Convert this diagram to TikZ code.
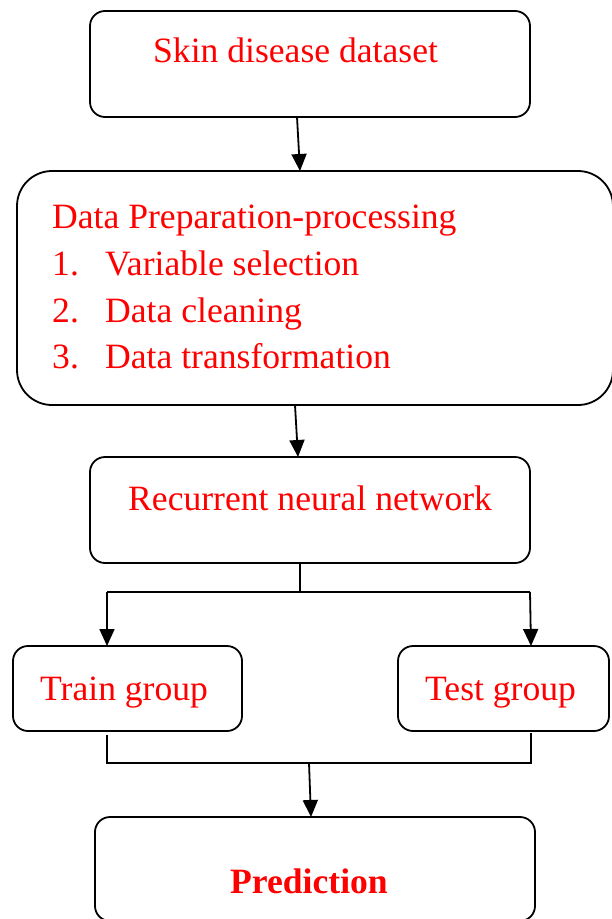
\documentclass[tikz,border=0pt]{standalone}
\usepackage{fontspec}
\setmainfont{Liberation Serif}
\usetikzlibrary{arrows.meta,calc}
\begin{document}
\begin{tikzpicture}[x=1pt,y=-1pt,
  box/.style={draw, line width=1.8pt, inner sep=0pt, outer sep=0pt, anchor=north west},
  txt/.style={text=red, anchor=base west, inner sep=0pt, font=\fontsize{35.6}{40}\selectfont},
  arr/.style={draw, line width=1.8pt, -{Triangle[width=15pt,length=17pt]}},
  ln/.style={draw, line width=1.8pt}]
\useasboundingbox (0,0) rectangle (611,919);
% boxes
\node[box, rounded corners=15pt, minimum width=440pt, minimum height=106pt] (b1) at (90,11) {};
\node[box, rounded corners=35pt, minimum width=596pt, minimum height=234pt] (b2) at (17,171) {};
\node[box, rounded corners=15pt, minimum width=440pt, minimum height=106pt] (b3) at (90,457) {};
\node[box, rounded corners=15pt, minimum width=229pt, minimum height=85pt] (b4) at (13,646) {};
\node[box, rounded corners=15pt, minimum width=211pt, minimum height=85pt] (b5) at (398,646) {};
\node[box, rounded corners=15pt, minimum width=440pt, minimum height=104pt] (b6) at (95,817) {};
% texts
\node[txt] (t1) at (153,62) {Skin disease dataset};
\node[txt] (t2) at (52,228) {Data Preparation-processing};
\node[txt] (n1) at (52,275) {1.};
\node[txt] (t3) at (105,275) {Variable selection};
\node[txt] (n2) at (52,322) {2.};
\node[txt] (t4) at (105,322) {Data cleaning};
\node[txt] (n3) at (52,368) {3.};
\node[txt] (t5) at (105,368) {Data transformation};
\node[txt] (t6) at (128,510) {Recurrent neural network};
\node[txt] (t7) at (40,700) {Train group};
\node[txt] (t8) at (425,700) {Test group};
\node[txt, font=\fontsize{35.6}{40}\selectfont\bfseries] (t9) at (230,893) {Prediction};
% connectors
\draw[arr] ($(b1.south)+(-13,0)$) -- ($(b2.north)+(-15,0)$);
\draw[arr] ($(b2.south)+(-20,0)$) -- ($(b3.north)+(-12,0)$);
\coordinate (s1) at ($(b3.south)+(-10,29)$);
\coordinate (sl) at (107,592);
\coordinate (sr) at (530,592);
\draw[ln] ($(b3.south)+(-10,0)$) -- (s1);
\draw[ln] (sl) -- (sr);
\draw[arr] (sl) -- ($(b4.north)+(-20.5,0)$);
\draw[arr] (sr) -- ($(b5.north)+(27.5,0)$);
\coordinate (jl) at (107,763);
\coordinate (jr) at (531,763);
\coordinate (jm) at (309,763);
\draw[ln] ($(b4.south)+(-20.5,4)$) -- (jl) -- (jr) -- ($(b5.south)+(27.5,2)$);
\draw[arr] (jm) -- ($(b6.north)+(-4,0)$);
\end{tikzpicture}
\end{document}
